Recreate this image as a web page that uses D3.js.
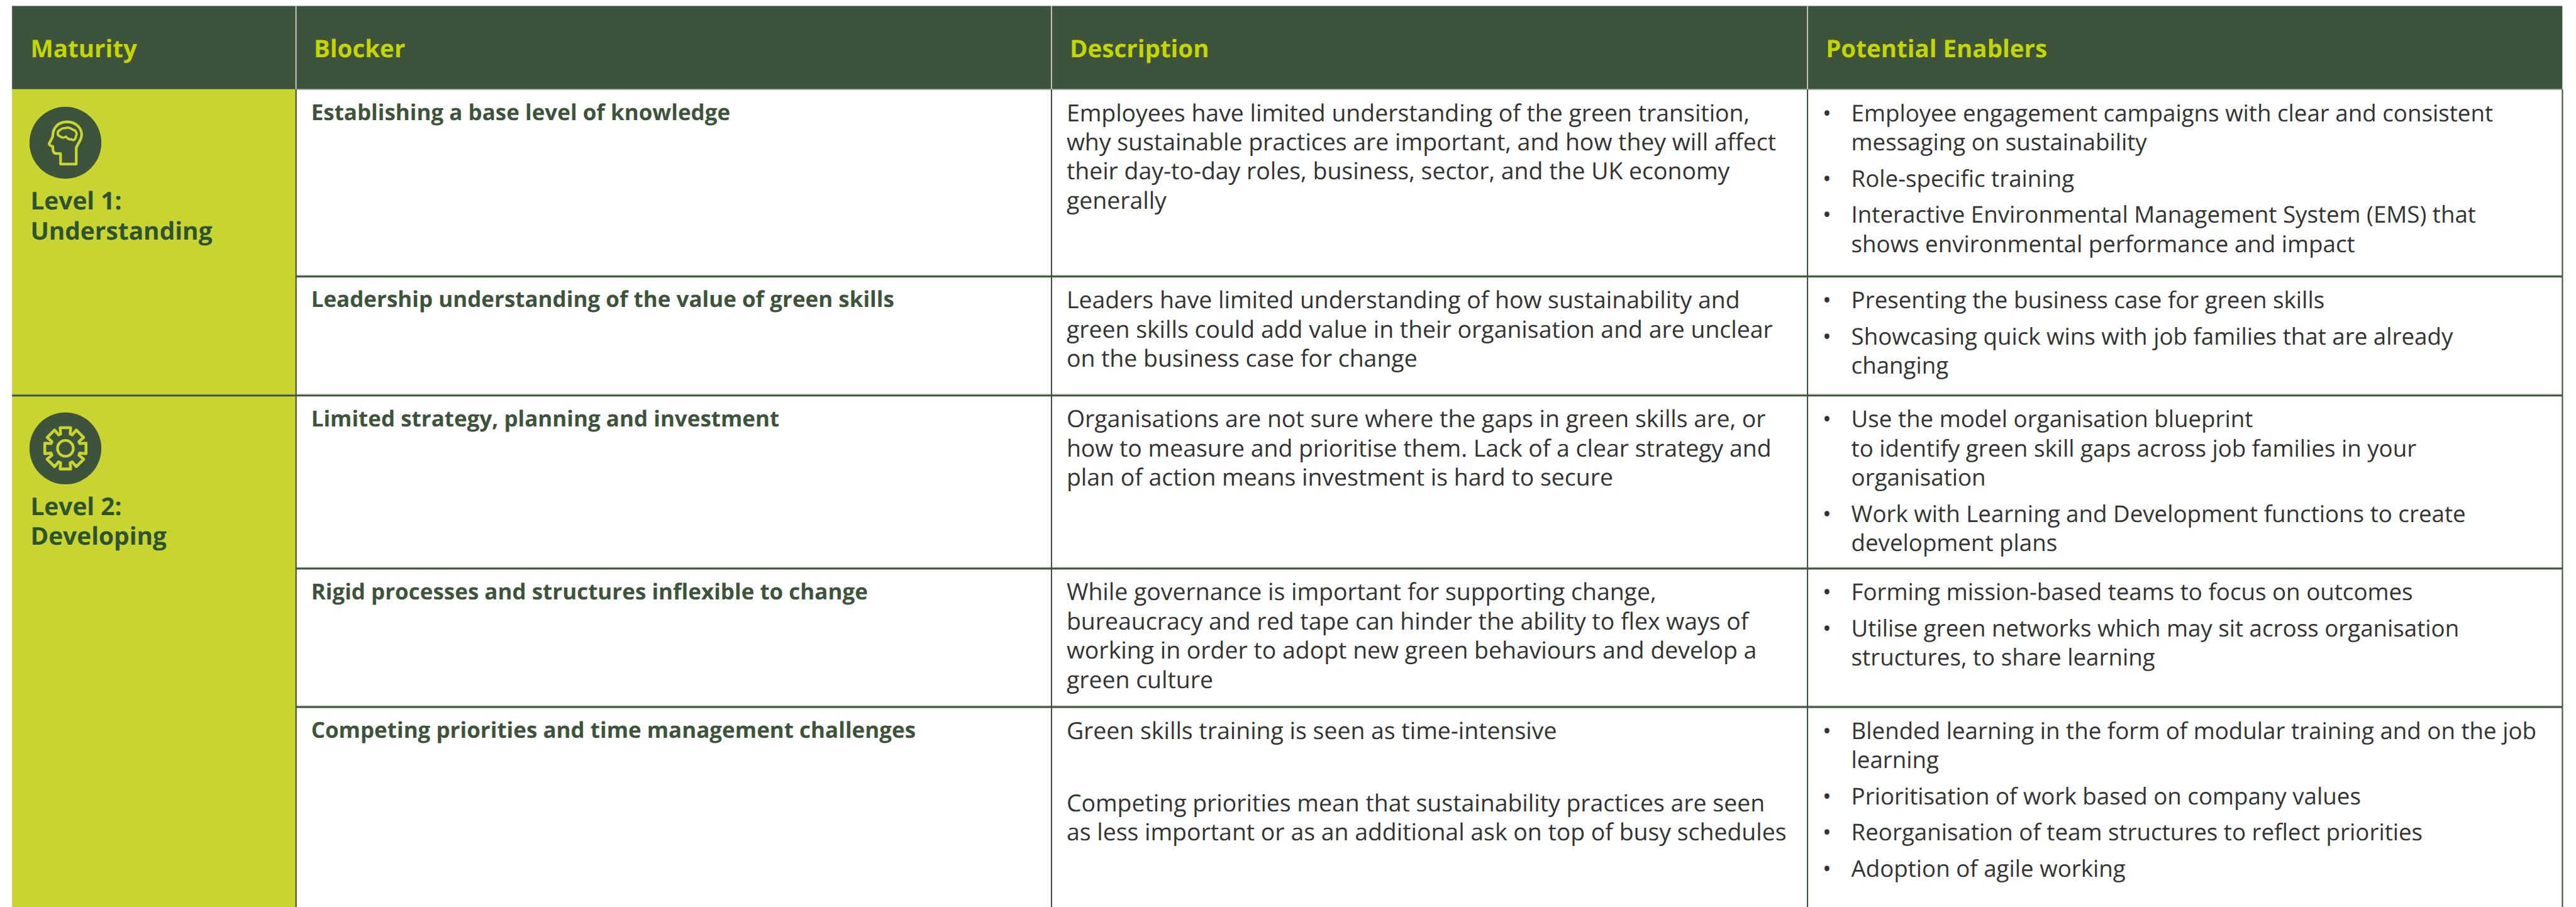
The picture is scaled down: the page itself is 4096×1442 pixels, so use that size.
<!DOCTYPE html>
<html><head><meta charset="utf-8">
<script src="https://cdn.jsdelivr.net/npm/d3@7/dist/d3.min.js"></script>
<style>html,body{margin:0;background:#fff;overflow:hidden}svg{display:block}text{font-family:"Open Sans";text-rendering:geometricPrecision}</style>
</head><body><svg id="c"></svg>
<script>
const headers=["Maturity","Blocker","Description","Potential Enablers"];
const levels=[{icon:"head",lines:["Level 1:","Understanding"],row:0},{icon:"gear",lines:["Level 2:","Developing"],row:2}];
const blockers=["Establishing a base level of knowledge","Leadership understanding of the value of green skills","Limited strategy, planning and investment","Rigid processes and structures inflexible to change","Competing priorities and time management challenges"];
const descriptions=[
[["Employees have limited understanding of the green transition,","why sustainable practices are important, and how they will affect","their day-to-day roles, business, sector, and the UK economy","generally"]],
[["Leaders have limited understanding of how sustainability and","green skills could add value in their organisation and are unclear","on the business case for change"]],
[["Organisations are not sure where the gaps in green skills are, or","how to measure and prioritise them. Lack of a clear strategy and","plan of action means investment is hard to secure"]],
[["While governance is important for supporting change,","bureaucracy and red tape can hinder the ability to flex ways of","working in order to adopt new green behaviours and develop a","green culture"]],
[["Green skills training is seen as time-intensive"],[""],["Competing priorities mean that sustainability practices are seen","as less important or as an additional ask on top of busy schedules"]]
];
const enablers=[
[["Employee engagement campaigns with clear and consistent","messaging on sustainability"],["Role-specific training"],["Interactive Environmental Management System (EMS) that","shows environmental performance and impact"]],
[["Presenting the business case for green skills"],["Showcasing quick wins with job families that are already","changing"]],
[["Use the model organisation blueprint","to identify green skill gaps across job families in your","organisation"],["Work with Learning and Development functions to create","development plans"]],
[["Forming mission-based teams to focus on outcomes"],["Utilise green networks which may sit across organisation","structures, to share learning"]],
[["Blended learning in the form of modular training and on the job","learning"],["Prioritisation of work based on company values"],["Reorganisation of team structures to reflect priorities"],["Adoption of agile working"]]
];
const W=4763,H=1677,L=22,R=4738,T=11,HB=165;
const colX=[22,547,1944,3342];
const rowTop=[165,511,731,1051,1307];
const DESC=43.5,ENAB=42.7,BOLD=40.7,HEAD=44.8,LEVEL=45.2,LH=54,GAP=13;
const GREEN="#3e533b",LIME="#c8d530",HTEXT="#c4d600",LTEXT="#2f5233",INK="#333333";
const svg=d3.select("#c").attr("width",4096).attr("height",1442).attr("viewBox",[0,0,W,H]);
const rect=(x,y,w,h,f)=>svg.append("rect").attr("x",x).attr("y",y).attr("width",w).attr("height",h).attr("fill",f);
rect(L,T,R-L,HB-T,GREEN);
rect(L,HB,colX[1]-L,H-HB,LIME);
const txt=(x,y,s,size,weight,fill)=>svg.append("text").attr("x",x).attr("y",y).attr("font-size",size).attr("font-weight",weight).attr("fill",fill).text(s);
// rules
rowTop.slice(1).forEach((y,i)=>{
  const x0=(y===731)?L:colX[1];
  rect(x0,y-2.5,R-x0,1.6,"#a9b4a6");
  rect(x0,y-1.2,R-x0,3.2,GREEN);
});
rect(colX[1],HB-0.5,R-colX[1],2,"#a9b4a6");
colX.slice(1).forEach(x=>{rect(x-1,HB,2.4,H-HB,GREEN);rect(x-0.8,T,1.8,HB-T,"#dfe4dc");});
rect(R-1,HB,2.4,H-HB,GREEN);
// headers
const headX=[56,580,1978,3376];
headers.forEach((h,i)=>txt(headX[i],106,h,HEAD,700,HTEXT));
// blockers & desc & enablers
blockers.forEach((b,i)=>{
  const t=rowTop[i];
  txt(575,t+57,b,BOLD,700,GREEN);
  let y=t+59;
  descriptions[i].forEach(p=>{p.forEach(l=>{if(l)txt(1972,y,l,DESC,400,INK);y+=LH;});y+=GAP;});
  y=t+59;
  enablers[i].forEach(p=>{txt(3370,y,"•",ENAB,400,INK);p.forEach(l=>{txt(3423,y,l,ENAB,400,INK);y+=LH;});y+=GAP;});
});
// levels
const icons={
 head:g=>{g.append("path").attr("d","M335 520 L335 462 L312 462 C296 462 292 448 292 432 L292 422 C284 420 272 416 272 408 C272 402 290 378 292 365 C292 320 320 286 372 286 C420 286 452 320 452 358 C452 385 428 410 422 430 L422 520 Z").attr("stroke-width",15);
  g.append("path").attr("d","M330 365 C315 360 315 335 335 330 C340 318 360 322 372 318 C385 315 395 325 405 330 C425 335 428 355 420 365 C420 385 405 392 395 382 C385 388 370 375 365 368 C355 375 340 375 330 365 Z").attr("stroke-width",13);},
 gear:g=>{
  const cx=362,cy=402,pts=[];const n=8,ro=118,ri=84,w=0.25,wr=0.32;
  for(let i=0;i<n;i++){const a=i*2*Math.PI/n-Math.PI/2;
   [[ri,-wr],[ro,-w],[ro,w],[ri,wr]].forEach(([r,d])=>pts.push([cx+r*Math.cos(a+d),cy+r*Math.sin(a+d)]));}
  g.append("path").attr("d",d3.line()(pts)+"Z").attr("stroke-width",16);
  g.append("circle").attr("cx",cx).attr("cy",cy).attr("r",44).attr("stroke-width",15);}
};
const iconCY=[264,829],lvlY=[[387,443],[952,1007]];
levels.forEach((l,i)=>{
  svg.append("circle").attr("cx",120.7).attr("cy",iconCY[i]).attr("r",66.5).attr("fill",GREEN);
  const g=svg.append("g").attr("transform",`translate(120.7,${iconCY[i]}) scale(${1/3}) translate(-362,-402)`).attr("fill","none").attr("stroke",LIME).attr("stroke-linejoin","round");
  icons[l.icon](g);
  l.lines.forEach((s,j)=>txt(56,lvlY[i][j],s,LEVEL,700,LTEXT));
});
</script></body></html>
